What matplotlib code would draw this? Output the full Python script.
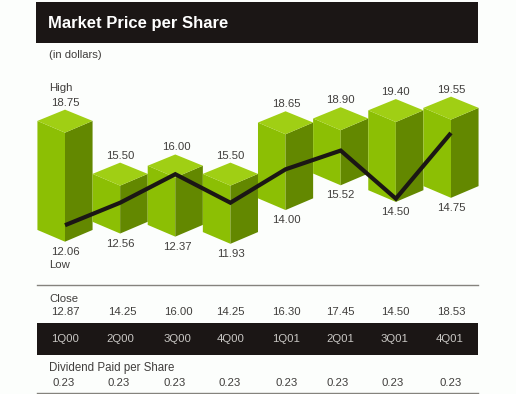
import matplotlib
matplotlib.use("Agg")
import matplotlib.pyplot as plt

plt.rcParams['font.family'] = ['Liberation Sans', 'DejaVu Sans']

quarters = ["1Q00", "2Q00", "3Q00", "4Q00", "1Q01", "2Q01", "3Q01", "4Q01"]
high = [18.75, 15.50, 16.00, 15.50, 18.65, 18.90, 19.40, 19.55]
low = [12.06, 12.56, 12.37, 11.93, 14.00, 15.52, 14.50, 14.75]
close = [12.87, 14.25, 16.00, 14.25, 16.30, 17.45, 14.50, 18.53]
dividend = [0.23, 0.23, 0.23, 0.23, 0.23, 0.23, 0.23, 0.23]

W, H = 516, 394
TXT = "#403e3c"
BLACK = "#1b1615"
FS = 8.2

fig = plt.figure(figsize=(W / 100, H / 100), dpi=100, facecolor="#fcfefc")

# page layer, in pixels
pg = fig.add_axes([0, 0, 1, 1])
pg.set_xlim(0, W)
pg.set_ylim(H, 0)
pg.axis("off")

pg.fill([36, 478, 478, 36], [2, 2, 43, 43], color=BLACK, lw=0)
pg.fill([37, 478, 478, 37], [323, 323, 355, 355], color=BLACK, lw=0)
pg.plot([37, 478], [285, 285], color="#85837d", lw=1)
pg.plot([37, 478], [393, 393], color="#85837d", lw=1)

pg.text(48.5, 23.5, "Market Price per Share", color="white", fontsize=12, fontweight="bold", va="center")
pg.text(49, 54.5, "(in dollars)", color=TXT, fontsize=8.1, va="center")
pg.text(49, 88, "High", color=TXT, fontsize=FS, va="center")
pg.text(49, 265, "Low", color=TXT, fontsize=FS, va="center")
pg.text(49.5, 299, "Close", color=TXT, fontsize=FS, va="center")
pg.text(49, 368.5, "Dividend Paid per Share", color=TXT, fontsize=8.3, va="center")

close_x = [65, 122, 178, 230, 286, 340, 395, 451]
quarter_x = [65, 120, 177, 231, 286, 340, 394, 450]
div_x = [64, 119, 175, 230, 287, 338, 393, 451]
for i in range(len(quarters)):
    pg.text(close_x[i], 312, "%.2f" % close[i], color=TXT, fontsize=FS, ha="center", va="center")
    pg.text(quarter_x[i], 339, quarters[i], color="#c9c7c4", fontsize=FS, ha="center", va="center")
    pg.text(div_x[i], 383, "%.2f" % dividend[i], color=TXT, fontsize=FS, ha="center", va="center")

# chart layer: x is the quarter index, y is dollars
ax = fig.add_axes([0, 0, 1, 1])
ax.patch.set_alpha(0)
ax.axis("off")
ax.set_xlim(-65 / 55.14, (W - 65) / 55.14)
ax.set_ylim((435 - H) / 16.3, 435 / 16.3)

TOP = "#a0cf14"
FRONT = "#8cbf04"
SIDE = "#638800"
HW = 0.5      # half a bar width
RISE = 0.72   # side corners above the front edge
BACK = 1.41   # back corner above the front edge
SHIFT = 0.2

for i in range(len(quarters)):
    t = high[i] - SHIFT
    b = low[i] - SHIFT
    ax.fill([i - HW, i, i, i - HW], [t + RISE, t, b, b + RISE], color=FRONT, lw=0)
    ax.fill([i, i + HW, i + HW, i], [t, t + RISE, b + RISE, b], color=SIDE, lw=0)
    ax.fill([i - HW, i, i + HW, i], [t + RISE, t + BACK, t + RISE, t], color=TOP, lw=0)

ax.plot(range(len(close)), close, color=BLACK, lw=3, solid_joinstyle="miter", solid_capstyle="butt", zorder=5)

high_x = [65, 120, 176, 230, 286, 340, 395, 451]
low_x = [65, 120, 177, 231, 286, 340, 395, 451]
for i in range(len(quarters)):
    ax.annotate("%.2f" % high[i], (i, high[i] - SHIFT + BACK), xycoords="data",
                xytext=(high_x[i] - (65 + 55.14 * i), 7), textcoords="offset pixels",
                color=TXT, fontsize=FS, ha="center", va="center")
    ax.annotate("%.2f" % low[i], (i, low[i] - SHIFT), xycoords="data",
                xytext=(low_x[i] - (65 + 55.14 * i), -10), textcoords="offset pixels",
                color=TXT, fontsize=FS, ha="center", va="center")

fig.savefig("out.png", dpi=100, facecolor=fig.get_facecolor())
